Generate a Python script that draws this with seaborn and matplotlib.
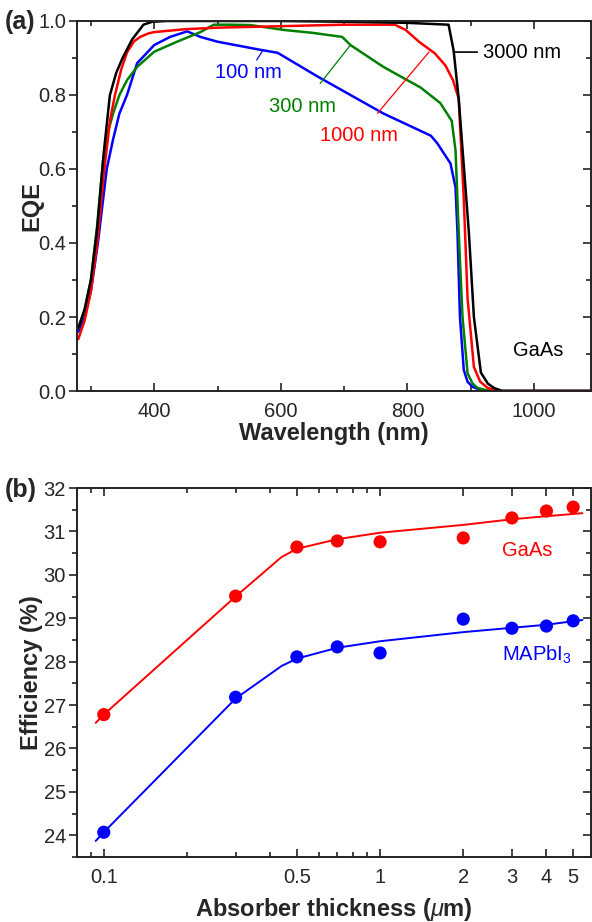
import numpy as np
import pandas as pd
import matplotlib.pyplot as plt
import seaborn as sns
from matplotlib.ticker import MultipleLocator, FixedLocator, NullFormatter, FixedFormatter

# (a) EQE spectra of GaAs cells
wl_100 = [280, 290, 300, 311, 318, 325, 335, 345, 357, 373, 400, 425, 452, 473, 500, 568,
          595, 658, 762, 837, 847, 868, 876, 879, 883, 889, 895, 903, 920, 1000, 1100]
eqe_100 = [0.16, 0.20, 0.27, 0.40, 0.50, 0.60, 0.68, 0.75, 0.80, 0.886, 0.935, 0.957, 0.972,
           0.957, 0.944, 0.922, 0.914, 0.85, 0.75, 0.69, 0.67, 0.615, 0.55, 0.43, 0.20, 0.057,
           0.025, 0.011, 0.0, 0.0, 0.0]

wl_300 = [280, 290, 300, 310, 319, 327, 335, 345, 357, 373, 400, 436, 473, 494, 520, 552,
          604, 650, 697, 710, 762, 821, 852, 870, 876, 881, 887, 895, 903, 911,
          930, 1000, 1100]
eqe_300 = [0.17, 0.22, 0.30, 0.45, 0.62, 0.70, 0.75, 0.80, 0.84, 0.876, 0.917, 0.944, 0.97,
           0.99, 0.99, 0.989, 0.976, 0.968, 0.957, 0.935, 0.876, 0.82, 0.778,
           0.73, 0.65, 0.43, 0.20, 0.048, 0.02, 0.008, 0.0, 0.0, 0.0]

wl_1000 = [280, 290, 300, 310, 320, 330, 338, 348, 357, 368, 378, 390, 400, 450, 500, 600,
           700, 780, 797, 819, 843, 860, 872, 881, 889, 895, 905, 915, 927, 945, 1000, 1100]
eqe_1000 = [0.14, 0.19, 0.27, 0.40, 0.58, 0.73, 0.80, 0.87, 0.915, 0.945, 0.957, 0.966, 0.97,
            0.978, 0.982, 0.986, 0.99, 0.99, 0.976, 0.943, 0.913, 0.88, 0.84, 0.79, 0.52,
            0.25, 0.065, 0.025, 0.008, 0.0, 0.0, 0.0]

wl_3000 = [280, 290, 300, 310, 320, 330, 340, 350, 365, 383, 397, 420, 500, 600, 700, 800,
           865, 873, 881, 889, 897, 905, 916, 927, 937, 950, 1000, 1100]
eqe_3000 = [0.17, 0.22, 0.30, 0.44, 0.64, 0.80, 0.86, 0.90, 0.95, 0.99, 0.998, 1.0, 1.0, 1.0,
            0.998, 0.995, 0.99, 0.92, 0.79, 0.61, 0.43, 0.20, 0.05, 0.02, 0.008, 0.0, 0.0, 0.0]

# (b) efficiency vs absorber thickness
thick = [0.1, 0.3, 0.5, 0.7, 1, 2, 3, 4, 5]
eff_gaas = [26.78, 29.51, 30.64, 30.78, 30.76, 30.85, 31.31, 31.47, 31.56]
eff_mapbi = [24.07, 27.18, 28.11, 28.34, 28.20, 28.98, 28.77, 28.82, 28.94]

fit_x = [0.0935, 0.1, 0.3, 0.44, 0.5, 0.7, 1, 2, 3, 4, 5.4]
fit_gaas = [26.59, 26.78, 29.50, 30.41, 30.60, 30.82, 30.97, 31.15, 31.28, 31.35, 31.42]
fit_mapbi = [23.87, 24.07, 27.15, 27.90, 28.07, 28.32, 28.47, 28.68, 28.78, 28.85, 28.96]

sns.set_theme(style='ticks')
plt.rcParams['font.family'] = ['Liberation Sans', 'DejaVu Sans']
plt.rcParams['mathtext.fontset'] = 'custom'
plt.rcParams['mathtext.rm'] = 'Liberation Sans'
plt.rcParams['mathtext.it'] = 'Liberation Sans:italic'
plt.rcParams['mathtext.bf'] = 'Liberation Sans:bold'

TICK_FS = 14.5
LABEL_FS = 17
NOTE_FS = 14.5
LW_SPINE = 1.2

fig = plt.figure(figsize=(5.92, 9.22), dpi=100)
ax_a = fig.add_axes([77 / 592, 1 - 391 / 922, 514 / 592, 370 / 922])
ax_b = fig.add_axes([77 / 592, 1 - 857 / 922, 514 / 592, 369 / 922])


def style_box(ax):
    for s in ax.spines.values():
        s.set_visible(True)
        s.set_linewidth(LW_SPINE)
        s.set_color('#222222')
    ax.tick_params(axis='x', which='both', direction='in', top=True, bottom=True,
                   width=LW_SPINE, labelsize=TICK_FS, pad=8, color='#222222')
    ax.tick_params(axis='x', which='major', length=6)
    ax.tick_params(axis='x', which='minor', length=3.5)
    ax.tick_params(axis='y', which='both', direction='out', left=True, right=False,
                   width=LW_SPINE, labelsize=TICK_FS, pad=2, color='#222222')
    ax.tick_params(axis='y', which='major', length=6)
    ax.tick_params(axis='y', which='minor', length=3.5)
    # inward ticks on the right side
    ax_r = ax.twinx()
    ax_r.set_ylim(ax.get_ylim())
    ax_r.yaxis.set_major_locator(ax.yaxis.get_major_locator())
    ax_r.yaxis.set_minor_locator(ax.yaxis.get_minor_locator())
    ax_r.tick_params(axis='y', which='both', direction='in', labelright=False,
                     width=LW_SPINE, color='#222222')
    ax_r.tick_params(axis='y', which='major', length=6)
    ax_r.tick_params(axis='y', which='minor', length=3.5)
    for s in ax_r.spines.values():
        s.set_linewidth(LW_SPINE)
        s.set_color('#222222')


# ---- panel (a)
frames = []
for name, wl, eqe in [('100 nm', wl_100, eqe_100), ('300 nm', wl_300, eqe_300),
                      ('1000 nm', wl_1000, eqe_1000), ('3000 nm', wl_3000, eqe_3000)]:
    frames.append(pd.DataFrame({'wl': wl, 'eqe': eqe, 'thickness': name}))
df_eqe = pd.concat(frames, ignore_index=True)
pal_a = {'100 nm': '#0000ff', '300 nm': '#008000', '1000 nm': '#ff0000', '3000 nm': '#000000'}
# black drawn last so it sits on top like in the original
sns.lineplot(data=df_eqe, x='wl', y='eqe', hue='thickness', palette=pal_a,
             hue_order=['100 nm', '300 nm', '1000 nm', '3000 nm'],
             estimator=None, sort=True, lw=1.8, legend=False, ax=ax_a)
ax_a.set_xlim(278, 1090)
ax_a.set_ylim(0, 1.0)
ax_a.xaxis.set_major_locator(FixedLocator([400, 600, 800, 1000]))
ax_a.xaxis.set_minor_locator(MultipleLocator(100))
ax_a.yaxis.set_major_locator(MultipleLocator(0.2))
ax_a.yaxis.set_minor_locator(MultipleLocator(0.1))
ax_a.yaxis.set_major_formatter(plt.FuncFormatter(lambda v, p: f'{v:.1f}'))
ax_a.set_xlabel('Wavelength (nm)', fontsize=LABEL_FS, fontweight='bold')
ax_a.set_ylabel('EQE', fontsize=LABEL_FS, fontweight='bold')
ax_a.xaxis.set_label_coords(0.5, -0.085)
ax_a.yaxis.set_label_coords(-0.066, 0.5)
style_box(ax_a)

ax_a.annotate('100 nm', xy=(571, 0.919), xytext=(549, 0.86), color='#0000ff',
              fontsize=NOTE_FS, ha='center', va='center',
              arrowprops=dict(arrowstyle='-', color='#0000ff', lw=0.9, shrinkA=9, shrinkB=0))
ax_a.annotate('300 nm', xy=(710, 0.935), xytext=(634, 0.77), color='#008000',
              fontsize=NOTE_FS, ha='center', va='center',
              arrowprops=dict(arrowstyle='-', color='#008000', lw=0.9, shrinkA=9, shrinkB=0))
ax_a.annotate('1000 nm', xy=(834, 0.916), xytext=(723, 0.69), color='#ff0000',
              fontsize=NOTE_FS, ha='center', va='center',
              arrowprops=dict(arrowstyle='-', color='#ff0000', lw=0.9, shrinkA=9, shrinkB=0))
ax_a.annotate('3000 nm', xy=(873, 0.916), xytext=(920, 0.916), color='black',
              fontsize=NOTE_FS, ha='left', va='center',
              arrowprops=dict(arrowstyle='-', color='black', lw=1.2, shrinkA=2, shrinkB=0))
ax_a.text(966, 0.11, 'GaAs', fontsize=NOTE_FS, ha='left', va='center', color='black')

# ---- panel (b)
df_pts = pd.DataFrame({'t': thick * 2, 'eff': eff_gaas + eff_mapbi,
                       'cell': ['GaAs'] * len(thick) + ['MAPbI3'] * len(thick)})
df_fit = pd.DataFrame({'t': fit_x * 2, 'eff': fit_gaas + fit_mapbi,
                       'cell': ['GaAs'] * len(fit_x) + ['MAPbI3'] * len(fit_x)})
pal_b = {'GaAs': '#ff0000', 'MAPbI3': '#0000ff'}
ax_b.set_xscale('log')
sns.lineplot(data=df_fit, x='t', y='eff', hue='cell', palette=pal_b, estimator=None,
             sort=True, lw=1.4, legend=False, ax=ax_b)
sns.scatterplot(data=df_pts, x='t', y='eff', hue='cell', palette=pal_b, s=90,
                edgecolor='none', legend=False, ax=ax_b, zorder=3)
ax_b.set_xlim(0.08, 5.8)
ax_b.set_ylim(23.5, 32)
ax_b.xaxis.set_major_locator(FixedLocator([0.1, 0.5, 1, 2, 3, 4, 5]))
ax_b.xaxis.set_major_formatter(FixedFormatter(['0.1', '0.5', '1', '2', '3', '4', '5']))
ax_b.xaxis.set_minor_locator(FixedLocator([0.09, 0.2, 0.3, 0.4, 0.6, 0.7, 0.8, 0.9]))
ax_b.xaxis.set_minor_formatter(NullFormatter())
ax_b.yaxis.set_major_locator(MultipleLocator(1))
ax_b.yaxis.set_minor_locator(MultipleLocator(0.5))
ax_b.set_xlabel(r'Absorber thickness ($\mu$m)', fontsize=LABEL_FS, fontweight='bold')
ax_b.set_ylabel('Efficiency (%)', fontsize=LABEL_FS, fontweight='bold')
ax_b.xaxis.set_label_coords(0.5, -0.105)
ax_b.yaxis.set_label_coords(-0.066, 0.5)
style_box(ax_b)

ax_b.text(2.77, 30.57, 'GaAs', color='#ff0000', fontsize=NOTE_FS, ha='left', va='center')
ax_b.text(2.77, 28.15, r'MAPbI$_3$', color='#0000ff', fontsize=NOTE_FS, ha='left', va='center')

fig.text(0.008, 1 - 21.5 / 922, '(a)', fontsize=18, fontweight='bold', ha='left', va='center')
fig.text(0.008, 1 - 490 / 922, '(b)', fontsize=18, fontweight='bold', ha='left', va='center')

fig.savefig('out.png', dpi=100)
